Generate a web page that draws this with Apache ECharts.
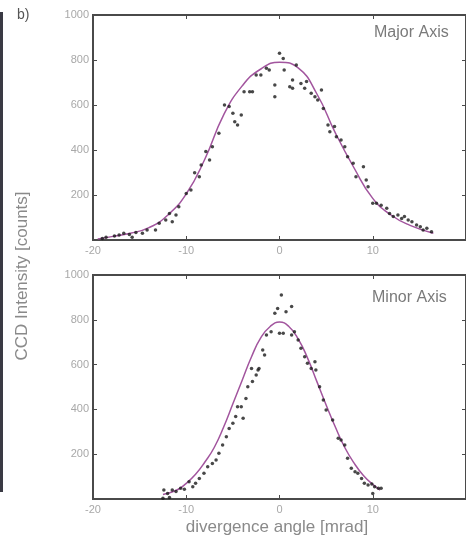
<!DOCTYPE html>
<html><head><meta charset="utf-8">
<script src="https://cdn.jsdelivr.net/npm/echarts@6/dist/echarts.min.js"></script>
<style>html,body{margin:0;padding:0;background:#fff}#c{width:466px;height:545px}</style>
</head><body><div id="c"></div>
<script>
// Major axis scatter (x in mrad, y in counts)
const majorX = [-19.0,-18.6,-17.7,-17.2,-16.7,-16.1,-15.8,-15.4,-14.7,-14.2,-13.3,-12.9,-12.2,-11.8,-11.5,-11.1,-10.8,-10.0,-9.5,-9.1,-8.6,-8.4,-7.9,-7.5,-7.2,-6.5,-5.9,-5.4,-5.0,-4.8,-4.5,-4.1,-3.8,-3.2,-2.9,-2.5,-2.0,-1.4,-1.1,-0.5,-0.5,0.0,0.4,0.5,1.1,1.4,1.4,1.8,2.3,2.7,2.9,3.4,3.8,4.1,4.5,4.7,5.2,5.4,5.9,6.1,6.6,7.0,7.3,7.9,8.2,9.0,9.3,9.5,10.0,10.4,10.9,11.5,11.8,12.2,12.7,13.1,13.4,13.8,14.2,14.7,15.1,15.4,15.8,16.3];
const majorY = [7,12,18,22,30,25,12,33,30,44,44,74,89,118,81,111,148,207,222,299,281,333,393,356,415,474,600,593,563,526,511,556,659,659,659,733,733,763,756,689,637,830,807,756,681,674,711,778,696,674,704,652,637,622,667,585,511,481,504,459,444,415,370,341,281,326,267,237,163,163,155,141,118,104,111,96,104,89,81,67,59,44,52,37];
// Major axis fit curve
const majorFitX = [-19.5,-18,-16,-14,-12,-10,-8,-6,-4,-2,0,2,4,6,8,10,12,14,16.5];
const majorFitY = [5,15,30,55,110,205,360,555,685,760,790,765,650,475,320,185,110,65,30];
// Minor axis scatter
const minorX = [-12.5,-12.4,-12.0,-11.8,-11.5,-11.1,-10.6,-10.2,-9.7,-9.3,-9.0,-8.6,-8.1,-7.7,-7.2,-6.8,-6.5,-6.1,-5.7,-5.4,-5.0,-4.7,-4.5,-4.1,-3.9,-3.6,-3.4,-3.0,-2.9,-2.5,-2.3,-2.2,-1.8,-1.6,-1.4,-0.9,-0.5,-0.2,0.0,0.2,0.4,0.7,1.3,1.3,1.6,2.0,2.3,2.7,3.0,3.4,3.8,3.9,4.3,4.7,5.0,5.7,6.3,6.6,7.0,7.3,7.7,8.1,8.4,8.8,9.1,9.5,9.9,10.2,10.6,10.9,10.0];
const minorY = [3,40,25,7,40,33,48,43,77,55,70,92,115,144,159,174,204,241,278,315,338,368,412,412,360,449,501,583,524,554,576,583,665,643,732,747,829,851,740,911,740,836,859,732,747,710,673,635,606,583,613,576,501,442,397,353,271,263,241,182,137,122,115,92,70,63,67,55,48,48,25];
// Minor axis fit curve
const minorFitX = [-12.5,-11,-10,-9,-8,-7,-6,-5,-4,-3,-2,-1,0,1,2,3,4,5,6,7,8,9,10,10.8];
const minorFitY = [20,40,70,110,165,230,320,425,530,635,720,770,790,770,715,630,525,420,320,230,160,105,65,40];
// Axis ticks
const xTicks = [-20,-10,0,10,20];
const yTicks = [0,200,400,600,800,1000];

const pairs = (xs, ys) => xs.map((x, i) => [x, ys[i]]);
const frame = '#4a4a4a', lab = '#a8a8a8';
const grids = [
  {left: 93, top: 15, width: 373, height: 225, show: true, borderColor: frame, borderWidth: 2},
  {left: 93, top: 275, width: 373, height: 224, show: true, borderColor: frame, borderWidth: 2}
];
const noLine = {show:false, onZero:false};
const tick = {inside:true, length:4, lineStyle:{color:frame}};
const xAxes = [], yAxes = [];
[0,1].forEach(g => {
  xAxes.push({type:'value', gridIndex:g, position:'bottom', min:xTicks[0], max:xTicks[xTicks.length-1], interval:10,
    axisLine:noLine, splitLine:{show:false}, axisTick:tick,
    axisLabel:{color:lab, fontSize:11, margin:5, fontFamily:'Liberation Sans', showMaxLabel:false, formatter:v => String(v)}});
  xAxes.push({type:'value', gridIndex:g, position:'top', min:-20, max:20, interval:10,
    axisLine:noLine, splitLine:{show:false}, axisLabel:{show:false}, axisTick:tick});
  yAxes.push({type:'value', gridIndex:g, position:'left', min:yTicks[0], max:yTicks[yTicks.length-1], interval:200,
    axisLine:noLine, splitLine:{show:false}, axisTick:tick,
    axisLabel:{color:lab, fontSize:11, margin:4, fontFamily:'Liberation Sans', showMinLabel:false, formatter:v => String(v)}});
  yAxes.push({type:'value', gridIndex:g, position:'right', min:0, max:1000, interval:200,
    axisLine:noLine, splitLine:{show:false}, axisLabel:{show:false}, axisTick:tick});
});
const lineColor = '#a2559e';
const option = {
  animation:false,
  grid: grids, xAxis: xAxes, yAxis: yAxes,
  graphic: [
    {type:'rect', left:0, top:12, shape:{width:3, height:480}, style:{fill:'#3a3a44'}},
    {type:'text', left:17, top:8, style:{text:'b)', fontSize:14, fill:'#555', fontFamily:'Liberation Sans'}},
    {type:'text', left:374, top:25, style:{text:'Major Axis', fontSize:16, fill:'#7a7a7a', fontFamily:'Liberation Sans'}},
    {type:'text', left:372, top:290, style:{text:'Minor Axis', fontSize:16, fill:'#7a7a7a', fontFamily:'Liberation Sans'}},
    {type:'text', x:277, y:527, style:{text:'divergence angle [mrad]', fontSize:17, fill:'#8a8a8a', align:'center', verticalAlign:'middle', fontFamily:'Liberation Sans'}},
    {type:'text', x:22, y:276, rotation:Math.PI/2, style:{text:'CCD Intensity [counts]', fontSize:17, fill:'#8a8a8a', align:'center', verticalAlign:'middle', fontFamily:'Liberation Sans'}}
  ],
  series: [
    {type:'line', xAxisIndex:0, yAxisIndex:0, data:pairs(majorFitX, majorFitY), smooth:0.5, showSymbol:false, lineStyle:{color:lineColor, width:1.5}, z:2},
    {type:'scatter', xAxisIndex:0, yAxisIndex:0, data:pairs(majorX, majorY), symbolSize:3.5, itemStyle:{color:'#1a1a1a'}, z:3},
    {type:'line', xAxisIndex:2, yAxisIndex:2, data:pairs(minorFitX, minorFitY), smooth:0.5, showSymbol:false, lineStyle:{color:lineColor, width:1.5}, z:2},
    {type:'scatter', xAxisIndex:2, yAxisIndex:2, data:pairs(minorX, minorY), symbolSize:3.5, itemStyle:{color:'#1a1a1a'}, z:3}
  ]
};
echarts.init(document.getElementById('c'), null, {renderer:'canvas'}).setOption(option);
</script></body></html>
